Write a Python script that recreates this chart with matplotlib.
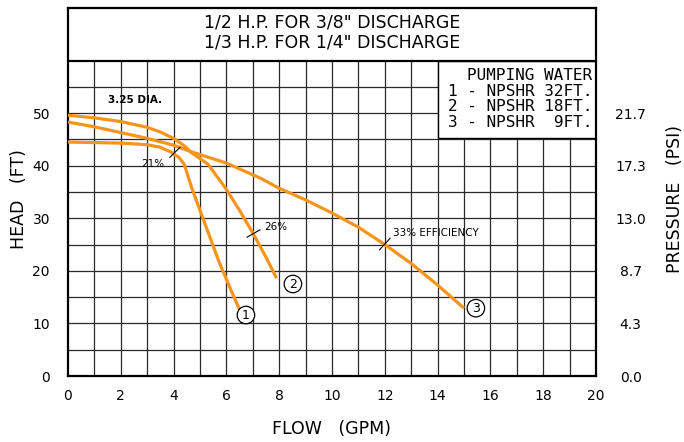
import matplotlib

matplotlib.use("Agg")
import matplotlib.pyplot as plt
from matplotlib.patches import Rectangle

# Pump curves (flow in GPM, head in ft)
flow_1 = [0, 1, 2, 3, 3.5, 3.9, 4.2, 4.4, 4.7, 5.2, 5.7, 6.1, 6.5]
head_1 = [44.5, 44.4, 44.3, 44.0, 43.5, 42.6, 41.6, 40.3, 35.6, 28.8, 22.0, 17.2, 12.6]

flow_2 = [0, 1, 2, 3, 3.5, 4.0, 4.4, 4.7, 5.3, 6.0, 6.5, 7.0, 7.5, 7.9]
head_2 = [49.6, 49.1, 48.4, 47.3, 46.4, 45.2, 43.8, 42.4, 40.3, 35.5, 31.5, 27.2, 22.6, 18.6]

flow_3 = [0, 1, 2, 3, 4, 4.7, 6, 7.3, 8, 9, 10, 11, 12, 13, 14, 15]
head_3 = [48.3, 47.4, 46.3, 45.2, 43.9, 42.6, 40.5, 37.6, 35.7, 33.5, 31.0, 28.3, 25.0, 21.4, 17.3, 12.9]

# Efficiency marks: (x0, x1), (y0, y1), label, label position, alignment
eff_marks = [
    ((3.86, 4.24), (41.6, 43.5), "21%", (3.2, 40.4), "center"),
    ((6.78, 7.27), (26.4, 27.8), "26%", (7.45, 28.4), "left"),
    ((11.8, 12.2), (24.0, 26.2), "33% EFFICIENCY", (12.3, 27.2), "left"),
]

# Curve number labels
curve_labels = ["1", "2", "3"]
curve_label_pos = [(6.74, 11.6), (8.52, 17.5), (15.45, 12.9)]

head_ticks = [0, 10, 20, 30, 40, 50]
psi_labels = ["0.0", "4.3", "8.7", "13.0", "17.3", "21.7"]
flow_ticks = list(range(0, 21, 2))

title_lines = ['1/2 H.P. FOR 3/8" DISCHARGE', '1/3 H.P. FOR 1/4" DISCHARGE']
legend_lines = ["PUMPING WATER", "1 - NPSHR 32FT.", "2 - NPSHR 18FT.", "3 - NPSHR  9FT."]

ORANGE = "#f7941d"

plt.rcParams["font.family"] = "DejaVu Sans"

fig = plt.figure(figsize=(6.84, 4.42), dpi=100)
ax = fig.add_axes([68 / 684, 1 - 376 / 442, 528 / 684, 368 / 442])
ax.set_xlim(0, 20)
ax.set_ylim(0, 70)

# Grid drawn by hand so it stops under the title box
for gx in range(1, 20):
    ax.plot([gx, gx], [0, 60], color="#2a2a2a", lw=0.9, zorder=1)
for gy in range(5, 60, 5):
    ax.plot([0, 20], [gy, gy], color="#2a2a2a", lw=0.9, zorder=1)
ax.plot([0, 20], [60, 60], color="black", lw=1.6, zorder=3)

# Legend box covers the grid in the top right corner
ax.add_patch(Rectangle((14, 45.2), 6, 14.8, facecolor="white", edgecolor="black",
                       lw=1.0, zorder=2))
legend_y = [57.2, 54.1, 51.2, 48.3]
for txt, ly in zip(legend_lines, legend_y):
    ax.text(19.87, ly, txt, ha="right", va="center", fontsize=11.5,
            family="DejaVu Sans Mono", zorder=4)

# Title lines
ax.text(10, 67.3, title_lines[0], ha="center", va="center", fontsize=12.5)
ax.text(10, 63.5, title_lines[1], ha="center", va="center", fontsize=12.5)

ax.text(1.5, 52.5, "3.25 DIA.", ha="left", va="center", fontsize=7.5,
        fontweight="bold", zorder=4)

# Curves
for fx, hy in [(flow_1, head_1), (flow_2, head_2), (flow_3, head_3)]:
    ax.plot(fx, hy, color=ORANGE, lw=2.3, solid_capstyle="butt",
            solid_joinstyle="round", zorder=5)

for xs, ys, lab, pos, ha in eff_marks:
    ax.plot(xs, ys, color="black", lw=0.8, zorder=6)
    ax.text(pos[0], pos[1], lab, ha=ha, va="center", fontsize=7.5, zorder=6)

for lab, pos in zip(curve_labels, curve_label_pos):
    ax.text(pos[0], pos[1], lab, ha="center", va="center", fontsize=9, zorder=7,
            bbox=dict(boxstyle="circle,pad=0.18", fc="white", ec="black", lw=0.9))

# Axes and ticks
for sp in ax.spines.values():
    sp.set_linewidth(1.6)
ax.set_xticks(flow_ticks)
ax.set_yticks(head_ticks)
ax.tick_params(length=0, labelsize=10)
ax.tick_params(axis="y", pad=13)
ax.tick_params(axis="x", pad=9)

ax2 = ax.twinx()
ax2.set_ylim(0, 70)
ax2.set_yticks(head_ticks)
ax2.set_yticklabels(psi_labels, ha="center")
ax2.tick_params(length=0, labelsize=10, pad=25)
for sp in ax2.spines.values():
    sp.set_visible(False)

ax.set_xlabel("FLOW   (GPM)", fontsize=12.5)
ax.xaxis.set_label_coords(0.5, -0.12)
ax.set_ylabel("HEAD   (FT)", fontsize=12.5)
ax.yaxis.set_label_coords(-0.076, 0.48)
ax2.set_ylabel("PRESSURE   (PSI)", fontsize=12.5)
ax2.yaxis.set_label_coords(1.133, 0.48)

fig.savefig("out.png", dpi=100)
